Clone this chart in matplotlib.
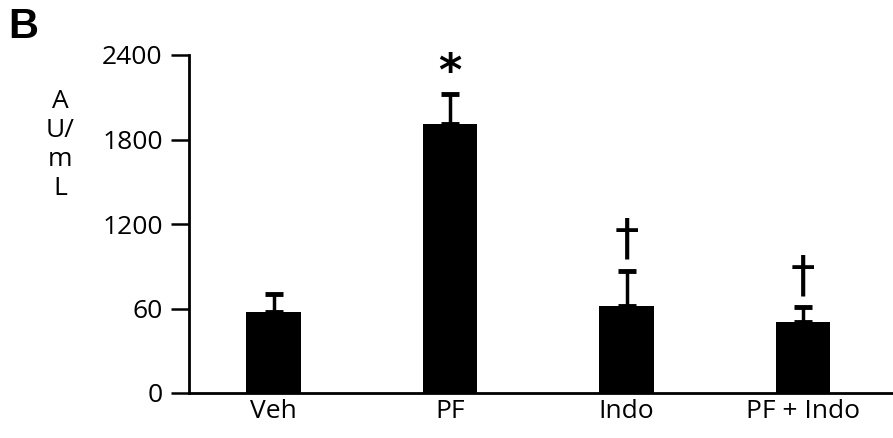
import matplotlib
matplotlib.use("Agg")
import matplotlib.pyplot as plt
import numpy as np

plt.rcParams['font.family'] = ['Open Sans', 'DejaVu Sans']

# Data
groups = ['Veh', 'PF', 'Indo', 'PF + Indo']
means = [573, 1910, 620, 506]
errors = [130, 211, 246, 103]
marks = ['', '*', '†', '†']
y_ticks = [0, 600, 1200, 1800, 2400]
y_tick_labels = ['0', '60', '1200', '1800', '2400']

fig = plt.figure(figsize=(8.93, 4.38), dpi=100)
ax = fig.add_axes([189 / 893, 1 - 393 / 438, 1 - 189 / 893, (393 - 55) / 438])

x = np.arange(len(groups))
ax.bar(x, means, width=0.31, color='black', zorder=2)
ax.errorbar(x, means, yerr=[np.zeros(len(errors)), errors], fmt='none',
            ecolor='black', elinewidth=2.5, capsize=6.5, capthick=3.5, zorder=1)

# significance marks above the error bars
for xi, m, e, s in zip(x, means, errors, marks):
    if s == '*':
        ax.text(xi, m + e + 0, s, ha='center', va='bottom', fontsize=32,
                fontweight='bold', family='DejaVu Sans')
    elif s:
        ax.text(xi, m + e + 50, s, ha='center', va='bottom', fontsize=35,
                family='DejaVu Sans')

ax.set_xlim(-0.48, 3.51)
ax.set_ylim(0, 2400)
ax.set_yticks(y_ticks)
ax.set_yticklabels(y_tick_labels, fontsize=19)
ax.set_xticks(x)
ax.set_xticklabels(groups, fontsize=19)
ax.tick_params(axis='y', length=13, width=1.8, pad=6)
ax.tick_params(axis='x', length=0, pad=4)

for side in ['top', 'right']:
    ax.spines[side].set_visible(False)
ax.spines['left'].set_linewidth(2)
ax.spines['bottom'].set_linewidth(2)
ax.set_facecolor('none')

fig.text(60 / 893, 1 - 145 / 438, 'A\nU/\nm\nL', ha='center', va='center',
         fontsize=19, linespacing=1.2)
fig.text(8 / 893, 1 - 27 / 438, 'B', ha='left', va='center', fontsize=30,
         fontweight='bold', family='Liberation Sans')

fig.savefig('out.png', dpi=100)
